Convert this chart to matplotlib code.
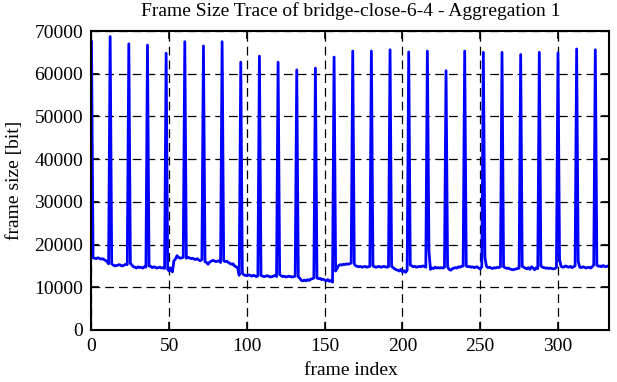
import matplotlib
matplotlib.use("Agg")
import matplotlib.pyplot as plt
import numpy as np

# frame sizes [bit], one row per GOP of 12 frames (I-frame first)
gop_rows = [
    [67500, 16900, 16800, 16700, 16900, 16800, 16600, 16700, 16500, 16300, 16000, 15500],
    [68700, 15500, 15200, 15000, 15100, 15200, 15300, 15100, 15000, 15200, 15400, 15300],
    [67000, 15600, 15200, 14800, 14700, 14500, 14800, 14600, 14700, 14500, 14800, 14700],
    [66700, 15000, 14900, 14600, 14800, 14700, 14500, 14600, 14700, 14500, 14600, 14400],
    [64800, 14200, 13800, 14500, 13600, 16200, 16600, 17400, 17000, 16800, 16900, 17000],
    [67500, 16800, 17000, 16900, 16700, 16800, 16600, 16500, 16700, 16400, 16200, 16500],
    [66500, 16000, 15800, 15400, 15900, 16100, 16300, 16200, 16000, 16100, 16200, 15800],
    [67500, 16200, 16000, 16100, 15800, 15600, 15400, 15500, 15000, 14800, 14500, 12800],
    [62700, 13300, 12900, 12800, 12700, 12900, 12800, 12600, 12800, 12700, 12500, 12700],
    [64100, 12800, 12600, 12500, 12600, 12700, 12600, 12400, 12500, 12600, 12800, 12500],
    [62700, 13000, 12700, 12500, 12600, 12400, 12500, 12600, 12500, 12400, 12500, 12600],
    [60900, 12400, 12100, 11600, 11500, 11700, 11500, 11800, 11600, 11900, 12000, 12200],
    [61300, 12200, 12000, 12100, 11800, 11900, 11700, 11500, 11800, 11400, 11600, 11200],
    [63900, 13800, 14500, 15100, 15300, 15200, 15400, 15300, 15500, 15400, 15500, 15700],
    [65300, 15400, 15000, 14900, 14800, 14900, 14700, 14800, 14900, 14700, 14800, 14900],
    [65300, 15000, 14800, 14700, 14800, 14900, 14700, 14800, 14900, 14800, 14700, 14800],
    [65600, 14900, 14600, 14300, 14100, 14000, 13800, 14200, 13600, 13900, 13500, 14000],
    [65100, 15200, 15000, 14800, 14900, 14700, 14800, 14900, 14800, 15000, 14900, 14700],
    [65300, 18500, 14200, 14500, 14400, 14700, 14500, 14600, 14500, 14600, 14500, 14700],
    [60700, 14800, 14200, 14000, 14300, 14500, 14600, 14500, 14800, 14700, 14900, 15000],
    [65300, 15000, 14800, 14900, 14700, 14800, 14600, 14700, 14800, 14500, 14300, 14800],
    [65000, 17000, 14900, 14600, 14700, 14500, 14400, 14600, 14500, 14700, 14600, 14800],
    [65000, 14800, 14600, 14400, 14500, 14300, 14200, 14100, 14200, 14300, 14400, 14500],
    [64500, 14900, 14700, 14500, 14300, 14600, 14200, 14800, 14500, 14100, 14600, 14400],
    [65000, 15000, 14700, 14600, 14500, 14500, 14400, 14500, 14400, 14300, 14400, 14600],
    [64900, 16500, 14900, 14700, 14800, 15000, 14800, 14700, 14900, 14600, 14800, 15000],
    [65800, 16000, 14700, 14600, 14800, 14700, 14500, 14600, 14700, 14500, 14800, 15200],
    [65600, 15200, 14900, 15000, 14800, 15100, 14900, 14800, 15000, 14900],
]
frame_size = np.concatenate([np.array(r) for r in gop_rows])
frame_index = np.arange(len(frame_size))

x_ticks = [0, 50, 100, 150, 200, 250, 300]
y_ticks = [0, 10000, 20000, 30000, 40000, 50000, 60000, 70000]

plt.rcParams["font.family"] = ["Liberation Serif", "DejaVu Serif"]
plt.rcParams["font.size"] = 14

fig = plt.figure(figsize=(6.17, 3.82), dpi=100)
ax = fig.add_axes([91.5 / 617, 52 / 382, (609.3 - 91.5) / 617, (330 - 31) / 382])

ax.plot(frame_index, frame_size, color="#0000ff", lw=2.0)

ax.set_xlim(0, len(frame_size) - 1)
ax.set_ylim(0, 70000)
ax.set_xticks(x_ticks)
ax.set_yticks(y_ticks)
ax.tick_params(direction="in", length=6, width=1.2, top=True, right=True, pad=6)
for s in ax.spines.values():
    s.set_linewidth(1.5)

ax.grid(True, color="black", lw=0.9, linestyle=(0, (7, 4)))
ax.set_axisbelow(True)

ax.set_title("Frame Size Trace of bridge-close-6-4 - Aggregation 1", fontsize=14, pad=11)
ax.set_xlabel("frame index", labelpad=5)
ax.set_ylabel("frame size [bit]", labelpad=8)

fig.savefig("out.png", dpi=100)
